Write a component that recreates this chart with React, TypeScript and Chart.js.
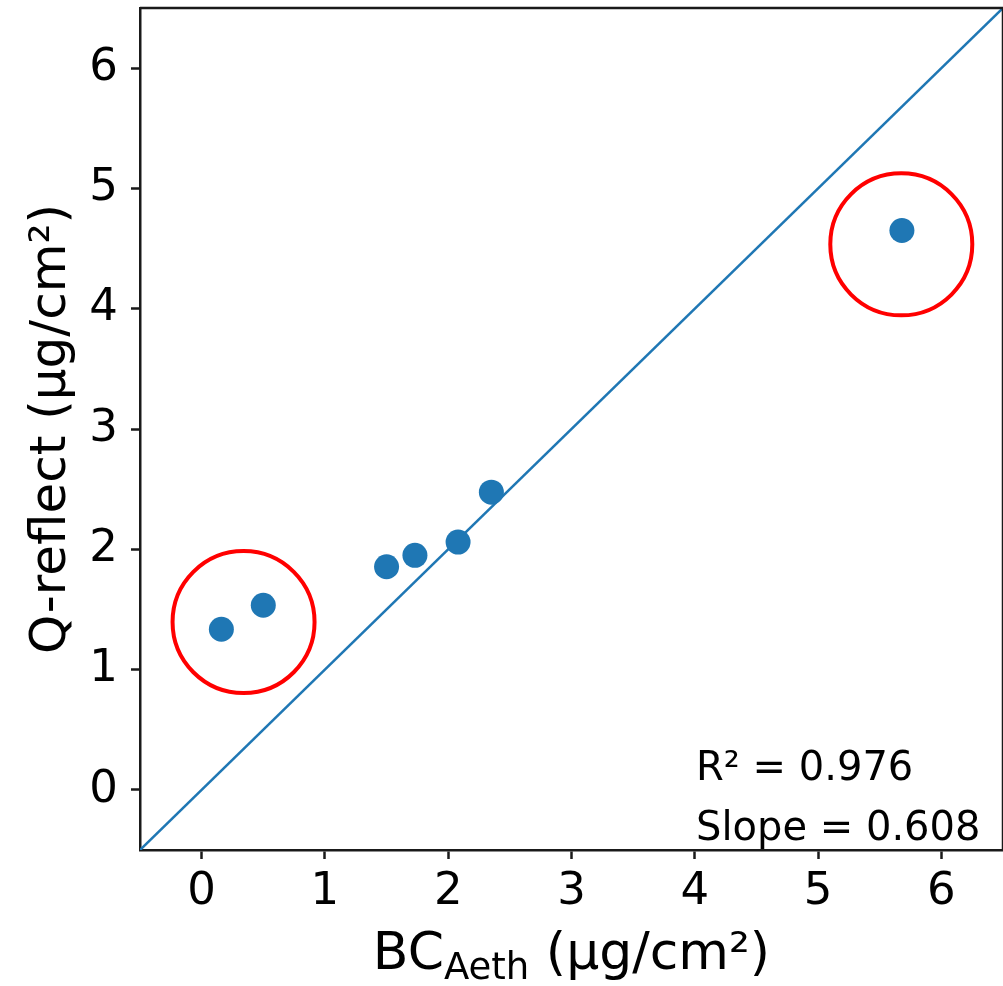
import React, { useEffect, useRef } from 'react';
import { Chart, registerables } from 'chart.js';

Chart.register(...registerables);

// ---- data ----
const bcAeth = [0.16, 0.5, 1.5, 1.73, 2.08, 2.35, 5.68];
const qReflect = [1.335, 1.535, 1.855, 1.95, 2.06, 2.475, 4.65];
const oneToOneX = [-0.5, 6.5];
const oneToOneY = [-0.5, 6.5];
const circleX = [0.34, 5.675];
const circleY = [1.395, 4.535];
const xTicks = [0, 1, 2, 3, 4, 5, 6];
const yTicks = [0, 1, 2, 3, 4, 5, 6];
const axisMin = -0.5;
const axisMax = 6.5;
const statLines = ['R\u00b2 = 0.976', 'Slope = 0.608'];
const statX = 4.01;
const statY = [0.08, -0.415];
const yTitle = 'Q-reflect (\u00b5g/cm\u00b2)';
const xTitleParts = ['BC', 'Aeth', ' (\u00b5g/cm\u00b2)'];

const FONT = '"DejaVu Sans", "Noto Sans", sans-serif';
const BLUE = '#1f77b4';

const overlayPlugin = {
  id: 'overlay',
  afterDraw(chart: any) {
    const ctx = chart.ctx;
    const { left, right, top, bottom } = chart.chartArea;
    const xs = chart.scales.x;
    const ys = chart.scales.y;
    ctx.save();
    // top/right frame
    ctx.strokeStyle = '#1a1a1a';
    ctx.lineWidth = 2.5;
    ctx.beginPath();
    ctx.moveTo(left, top);
    ctx.lineTo(right, top);
    ctx.lineTo(right, bottom);
    ctx.stroke();

    // stats text
    ctx.fillStyle = '#000';
    ctx.font = `40px ${FONT}`;
    ctx.textAlign = 'left';
    ctx.textBaseline = 'alphabetic';
    statLines.forEach((t, i) => {
      ctx.fillText(t, xs.getPixelForValue(statX), ys.getPixelForValue(statY[i]));
    });

    // x title with subscript
    const big = `52px ${FONT}`;
    const small = `37px ${FONT}`;
    ctx.font = big;
    const w0 = ctx.measureText(xTitleParts[0]).width;
    const w2 = ctx.measureText(xTitleParts[2]).width;
    ctx.font = small;
    const w1 = ctx.measureText(xTitleParts[1]).width;
    const total = w0 + w1 + w2;
    let x = (left + right) / 2 - total / 2;
    const base = 969;
    ctx.font = big;
    ctx.fillText(xTitleParts[0], x, base);
    x += w0;
    ctx.font = small;
    ctx.fillText(xTitleParts[1], x, base + 10);
    x += w1;
    ctx.font = big;
    ctx.fillText(xTitleParts[2], x, base);

    // y title
    ctx.translate(65, (top + bottom) / 2);
    ctx.rotate(-Math.PI / 2);
    ctx.font = `50px ${FONT}`;
    ctx.textAlign = 'center';
    ctx.fillText(yTitle, 0, 0);
    ctx.restore();
  },
};

export default function App() {
  const ref = useRef<HTMLCanvasElement | null>(null);
  useEffect(() => {
    if (!ref.current) return;
    const points = bcAeth.map((v, i) => ({ x: v, y: qReflect[i] }));
    const line = oneToOneX.map((v, i) => ({ x: v, y: oneToOneY[i] }));
    const circles = circleX.map((v, i) => ({ x: v, y: circleY[i] }));
    const tickFont = { family: FONT, size: 45 };
    const chart = new Chart(ref.current, {
      type: 'scatter',
      data: {
        datasets: [
          {
            type: 'line',
            data: line,
            borderColor: BLUE,
            borderWidth: 2.5,
            pointRadius: 0,
            fill: false,
            order: 3,
          } as any,
          {
            data: points,
            backgroundColor: BLUE,
            borderWidth: 0,
            pointRadius: 12.5,
            order: 2,
          },
          {
            data: circles,
            backgroundColor: 'rgba(0,0,0,0)',
            borderColor: '#ff0000',
            borderWidth: 4,
            pointRadius: 71,
            order: 1,
          },
        ],
      },
      options: {
        animation: false,
        responsive: true,
        maintainAspectRatio: false,
        layout: { autoPadding: false, padding: { top: 8, left: 0, right: 0, bottom: 0 } },
        plugins: { legend: { display: false }, tooltip: { enabled: false } },
        events: [],
        scales: {
          x: {
            type: 'linear',
            min: axisMin,
            max: axisMax,
            afterBuildTicks: (s: any) => {
              s.ticks = xTicks.map((v) => ({ value: v }));
            },
            afterFit: (s: any) => {
              s.height = 136;
              s.paddingLeft = 0;
              s.paddingRight = 0;
            },
            ticks: { font: tickFont, color: '#000', padding: 6 },
            grid: {
              drawOnChartArea: false,
              drawTicks: true,
              tickLength: 9,
              tickWidth: 2.5,
              tickColor: '#1a1a1a',
            },
            border: { display: true, color: '#1a1a1a', width: 2.5 },
          },
          y: {
            type: 'linear',
            min: axisMin,
            max: axisMax,
            afterBuildTicks: (s: any) => {
              s.ticks = yTicks.map((v) => ({ value: v }));
            },
            afterFit: (s: any) => {
              s.width = 140;
              s.paddingTop = 0;
              s.paddingBottom = 0;
            },
            ticks: { font: tickFont, color: '#000', padding: 13 },
            grid: {
              drawOnChartArea: false,
              drawTicks: true,
              tickLength: 9,
              tickWidth: 2.5,
              tickColor: '#1a1a1a',
            },
            border: { display: true, color: '#1a1a1a', width: 2.5 },
          },
        },
      },
      plugins: [overlayPlugin],
    });
    return () => chart.destroy();
  }, []);
  return (
    <div style={{ position: 'absolute', left: 0, top: 0, width: 1003, height: 986, background: '#fff' }}>
      <canvas ref={ref} />
    </div>
  );
}
